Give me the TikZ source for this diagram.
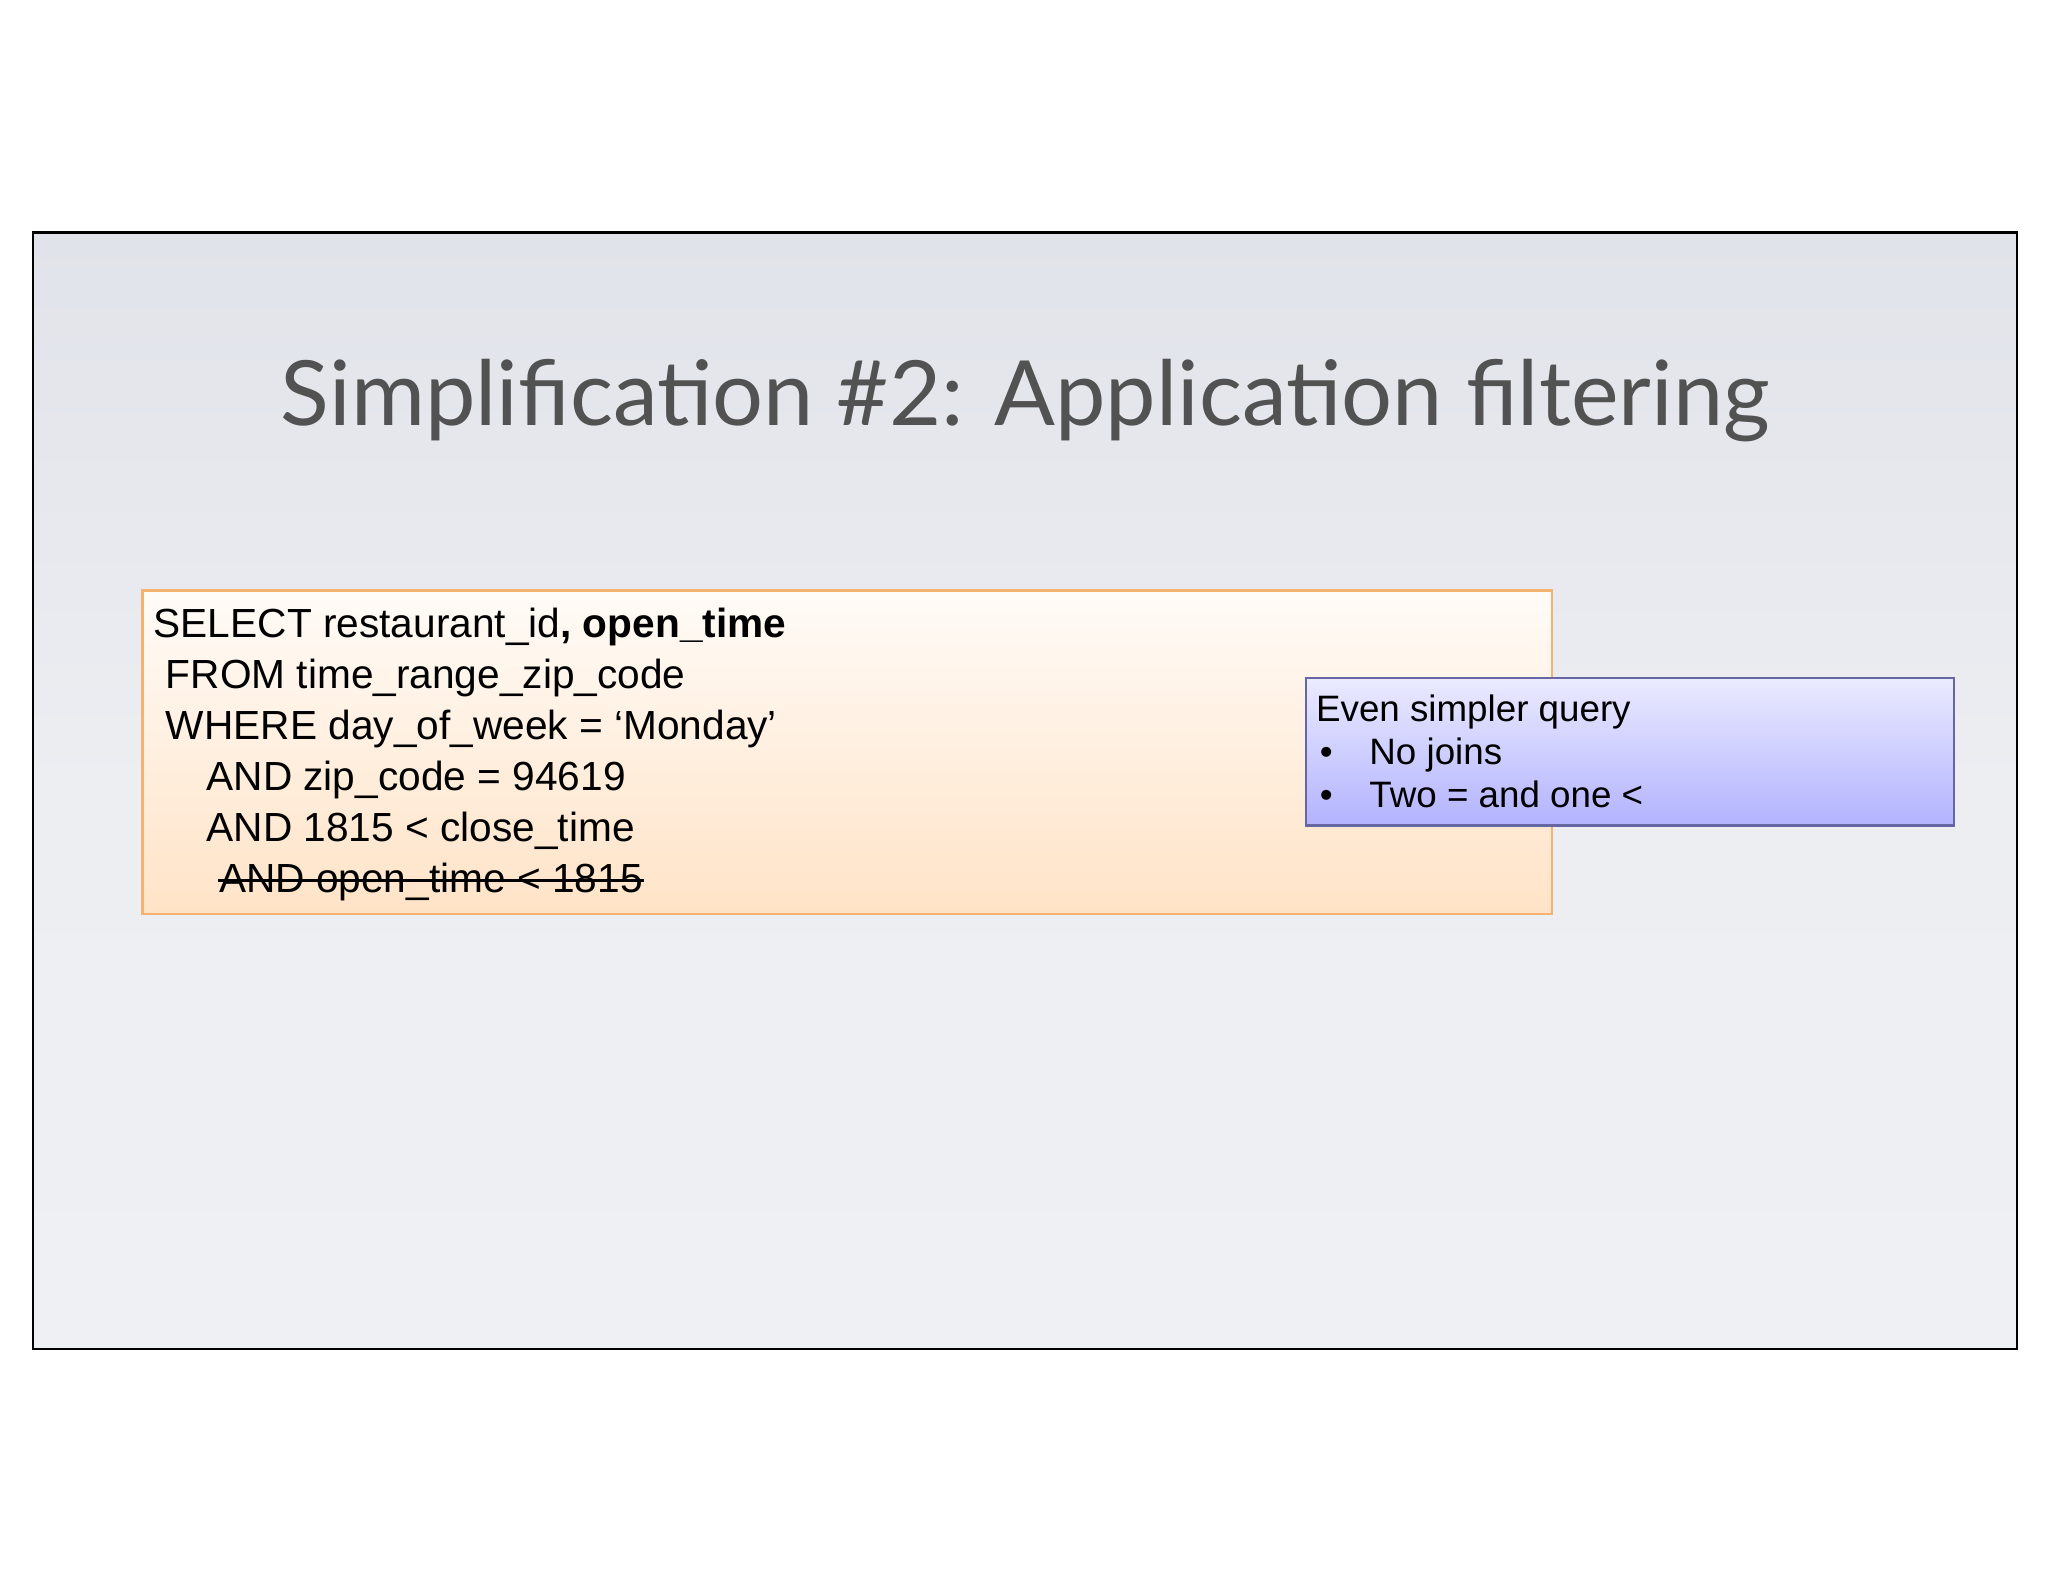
\documentclass[tikz,border=0pt]{standalone}
\usepackage{fontspec}
\setmainfont{Liberation Sans}
\newfontfamily\titlefont{Lato}
\definecolor{bgtop}{HTML}{E1E3EA}
\definecolor{bgmid}{HTML}{ECEEF2}
\definecolor{bgbot}{HTML}{EEF0F3}
\begin{document}
\begin{tikzpicture}[x=0.01cm,y=-0.01cm,
  sqlbox/.style={draw=orange!70!brown!60, top color=orange!3, bottom color=orange!22, line width=0.5pt},
  notebox/.style={draw=blue!40!black!60, top color=blue!8, bottom color=blue!30, line width=0.5pt}]
\useasboundingbox (0,0) rectangle (1568,1211);
\fill[white] (0,0) rectangle (1568,1211);
\shade[top color=bgtop, bottom color=bgbot, middle color=bgmid] (25,178) rectangle (1544,1033);
\draw[black, line width=0.5pt] (25,178) rectangle (1544,1033);
\node[font=\titlefont\fontsize{19.6}{23}\selectfont, text=black!68] (title) at (785,307) {Simplification \#2: Application filtering};
\draw[sqlbox] (109,452) rectangle (1188,700);
\node[anchor=north west, inner sep=0pt, align=left, font=\fontsize{8.85}{11.1}\selectfont] (sql) at (117,465) {%
SELECT restaurant\_id\textbf{, open\_time}\\
\hspace{0.3em}FROM time\_range\_zip\_code\\
\hspace{0.3em}WHERE day\_of\_week = ‘Monday’\\
\hspace{1.3em}AND zip\_code = 94619\\
\hspace{1.3em}AND 1815 < close\_time\\
\hspace{1.55em}\tikz[baseline]{\node[inner sep=0pt,anchor=base] (st) {AND open\_time < 1815}; \draw[line width=0.6pt] ([yshift=0.3em]st.base west) -- ([yshift=0.3em]st.base east);}};
\draw[notebox] (1000,519) rectangle (1496,632);
\node[anchor=north west, inner sep=0pt, align=left, font=\fontsize{8}{9.4}\selectfont] (note) at (1007,531) {%
Even simpler query\\
\hspace{0.1em}•\hspace{1.0em}No joins\\
\hspace{0.1em}•\hspace{1.0em}Two = and one <};
\end{tikzpicture}
\end{document}
